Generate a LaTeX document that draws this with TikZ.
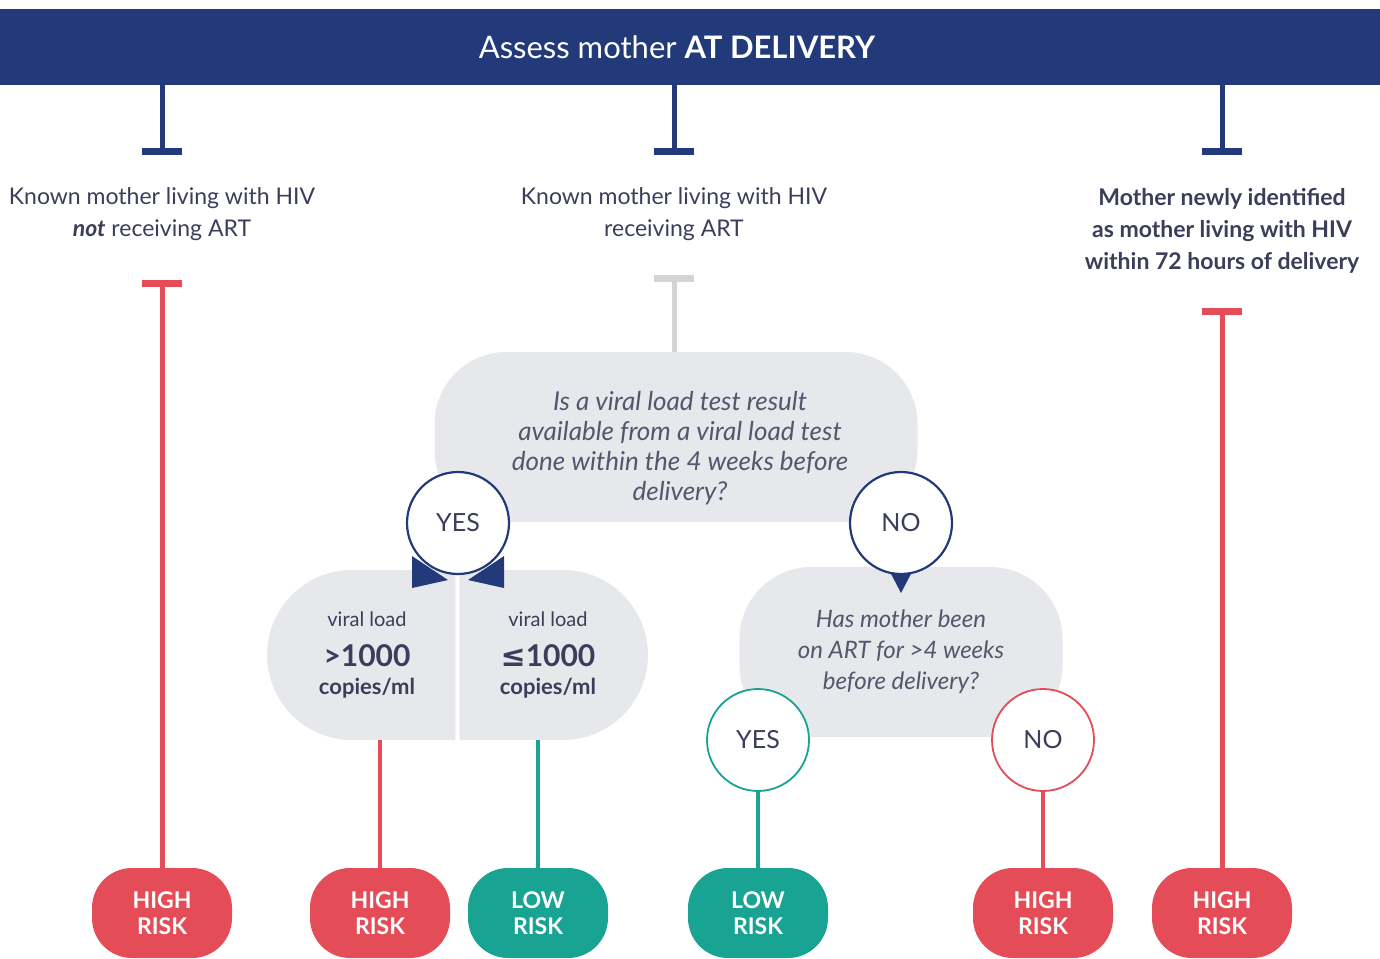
\documentclass[tikz,border=0pt]{standalone}
\usepackage{fontspec}
\setmainfont{Lato}
\newfontfamily\symfont{DejaVu Sans}
\usetikzlibrary{arrows.meta,shapes.misc}
\definecolor{navy}{HTML}{22397A}
\definecolor{riskred}{HTML}{E44D58}
\definecolor{riskgreen}{HTML}{18A393}
\definecolor{boxgray}{HTML}{E7E8EB}
\definecolor{bargray}{HTML}{D4D4D6}
\definecolor{txt}{HTML}{3B3E5A}
\definecolor{qtxt}{HTML}{53576D}

\begin{document}
\begin{tikzpicture}[x=1pt,y=-1pt,
  lbl/.style={text=txt,align=center,font=\fontsize{23}{32}\selectfont},
  qbox/.style={fill=boxgray,minimum height=170pt,rounded corners=72pt},
  qtext/.style={text=qtxt,align=center,font=\fontsize{26}{30}\selectfont\itshape},
  vbox/.style={rounded rectangle,fill=boxgray,minimum width=195pt,minimum height=170pt,
    align=center,text=txt,font=\fontsize{20}{22}\selectfont},
  ans/.style={circle,draw=#1,line width=2.2pt,fill=white,minimum size=102pt,inner sep=0pt,
    text=txt,font=\fontsize{25}{28}\selectfont},
  risk/.style={fill=#1,rounded corners=40pt,minimum width=140pt,minimum height=90pt,
    text=white,align=center,font=\fontsize{23}{26}\selectfont\bfseries},
  tbar/.style={draw=#1,line width=5pt,-{Bar[width=40pt,line width=7pt]}},
  wire/.style={draw=#1,line width=4pt}]
\useasboundingbox (0,0) rectangle (1380,958);
\fill[white] (0,0) rectangle (1380,958);
% header
\node[fill=navy,minimum width=1380pt,minimum height=76pt,inner sep=0pt] (hdr) at (690,47) {};
\node[text=white,font=\fontsize{31}{34}\selectfont] at (677,47) {Assess mother \textbf{AT DELIVERY}};
% the three kinds of mother
\node[lbl] (k1) at (162,214) {Known mother living with HIV\\{\bfseries\itshape not} receiving ART};
\node[lbl] (k2) at (674,214) {Known mother living with HIV\\receiving ART};
\node[lbl,font=\fontsize{23}{32}\selectfont\bfseries] (k3) at (1222,231)
  {Mother newly identified\\as mother living with HIV\\within 72 hours of delivery};
\coordinate (c1) at (162,155);
\coordinate (c2) at (674,155);
\coordinate (c3) at (1222,155);
\draw[tbar=navy] (hdr.south -| c1) -- (c1);
\draw[tbar=navy] (hdr.south -| c2) -- (c2);
\draw[tbar=navy] (hdr.south -| c3) -- (c3);
% outcomes
\node[risk=riskred] (h1) at (162,913) {HIGH\\RISK};
\node[risk=riskred] (h2) at (380,913) {HIGH\\RISK};
\node[risk=riskgreen] (l1) at (538,913) {LOW\\RISK};
\node[risk=riskgreen] (l2) at (758,913) {LOW\\RISK};
\node[risk=riskred] (h3) at (1043,913) {HIGH\\RISK};
\node[risk=riskred] (h4) at (1222,913) {HIGH\\RISK};
% questions
\node[qbox,minimum width=483pt] (q1) at (676,437) {};
\node[qtext] at (680,448) {Is a viral load test result\\available from a viral load test\\done within the 4 weeks before\\delivery?};
\node[qbox,qtext,minimum width=323pt,font=\fontsize{24}{31}\selectfont\itshape] (q2) at (901,652)
  {Has mother been\\on ART for >4 weeks\\before delivery?};
% viral load split
\node[vbox,rounded rectangle right arc=none] (v1) at (367,655)
  {viral load\\[16pt]{\fontsize{30}{30}\selectfont\bfseries >1000}\\[6pt]{\fontsize{22}{24}\selectfont\bfseries copies/ml}};
\node[vbox,rounded rectangle left arc=none] (v2) at (548,655)
  {viral load\\[16pt]{\fontsize{30}{30}\selectfont\bfseries{\symfont ≤}1000}\\[6pt]{\fontsize{22}{24}\selectfont\bfseries copies/ml}};
% answers
\fill[navy] (412,556) -- (412,588) -- (448,580) -- cycle;
\fill[navy] (504,556) -- (504,588) -- (468,580) -- cycle;
\node[ans=navy] (y1) at (458,523) {YES};
\fill[navy] (889,570) -- (913,570) -- (901,593) -- cycle;
\node[ans=navy] (n1) at (901,523) {NO};
\node[ans=riskgreen,line width=1.8pt] (y2) at (758,740) {YES};
\node[ans=riskred,line width=1.8pt] (n2) at (1043,740) {NO};
% connectors
\coordinate (c4) at (162,280);
\coordinate (c5) at (674,275);
\coordinate (c6) at (1222,308);
\draw[tbar=riskred] (h1) -- (c4);
\draw[tbar=bargray] (q1.north -| c5) -- (c5);
\draw[tbar=riskred] (h4) -- (c6);
\draw[wire=riskred] (v1.south -| h2) -- (h2);
\draw[wire=riskgreen] (v2.south -| l1) -- (l1);
\draw[wire=riskgreen] (y2) -- (l2);
\draw[wire=riskred] (n2) -- (h3);
\end{tikzpicture}
\end{document}
